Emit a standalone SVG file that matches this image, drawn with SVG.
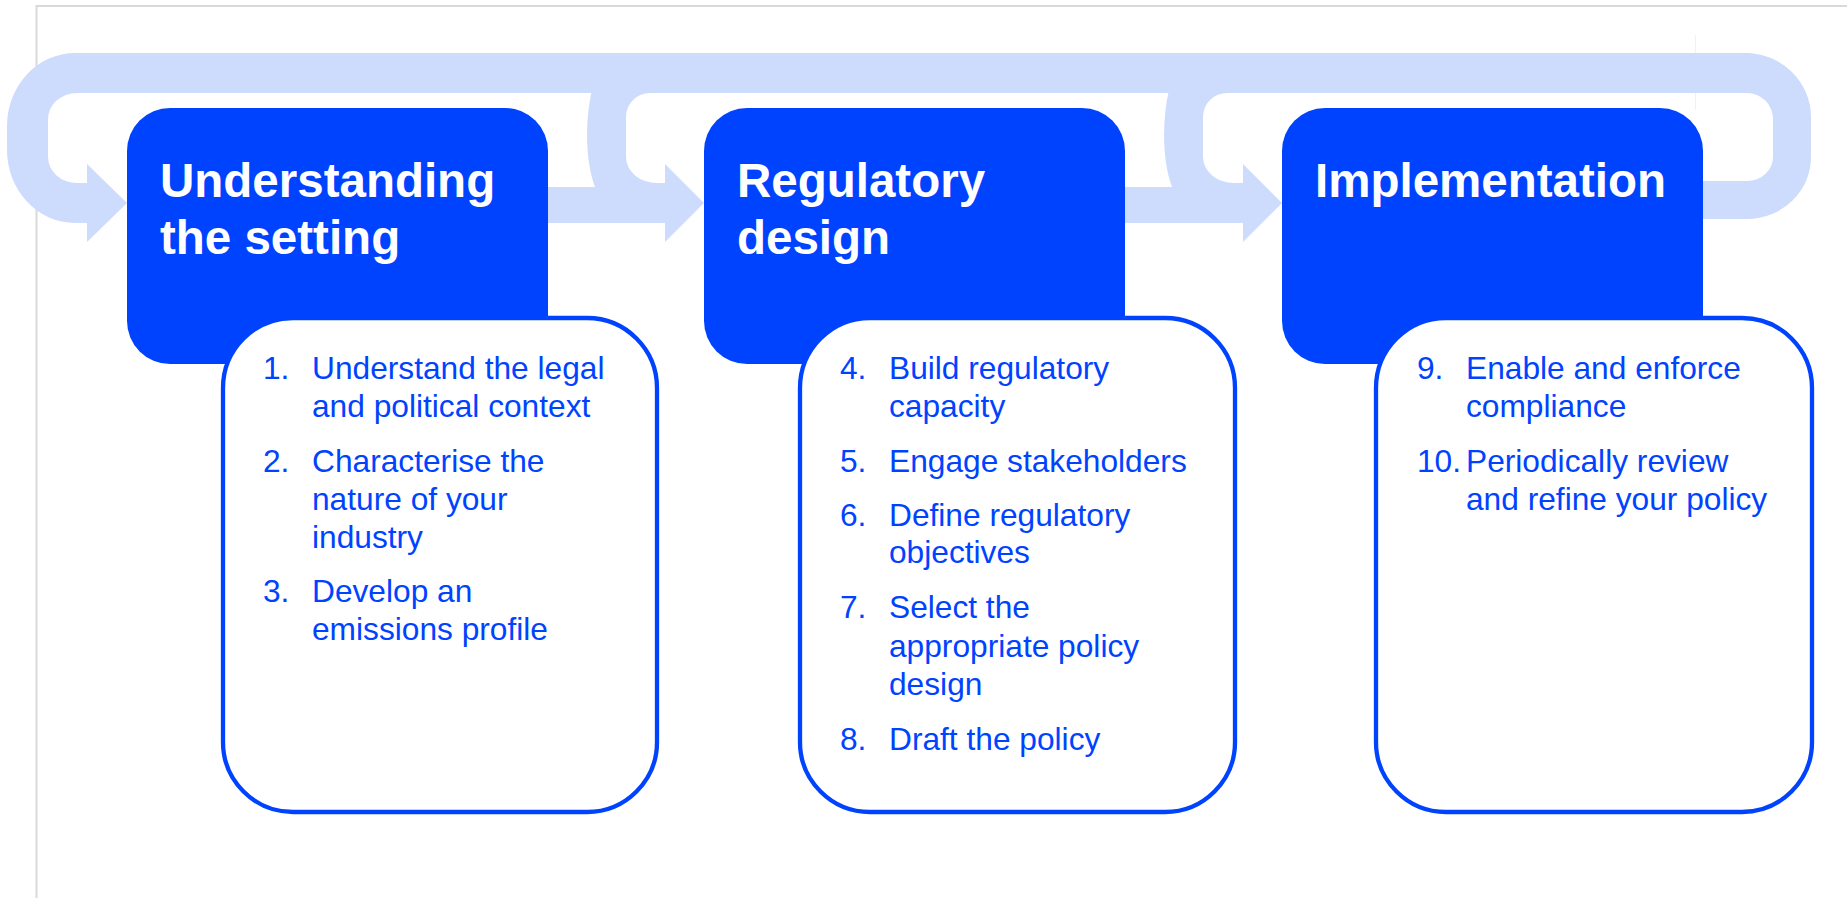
<svg xmlns="http://www.w3.org/2000/svg" width="1847" height="898" viewBox="0 0 1847 898">
  <style>
    .flow { fill: #CDDBFD; stroke: none; }
    .stage { fill: #0043FF; }
    .title { font-family: "Liberation Sans", Arial, sans-serif; font-weight: bold; font-size: 47.5px; fill: #FFFFFF; }
    .panel { fill: #FFFFFF; stroke: #0043FF; stroke-width: 4.3; }
    .item { font-family: "Liberation Sans", Arial, sans-serif; font-size: 31.7px; fill: #0043FF; }
    .frame { stroke: #D9D9D9; stroke-width: 2; fill: none; }
  </style>
  <rect x="0" y="0" width="1847" height="898" fill="#FFFFFF"/>
  <g id="frame">
    <path class="frame" d="M 36.5 898 L 36.5 6 L 1847 6"/>
    <line x1="1695.5" y1="35" x2="1695.5" y2="110" stroke="#EEF1F8" stroke-width="1"/>
  </g>
  <g id="connectors">
    <rect class="flow" x="72" y="53" width="1678" height="40"/>
    <path class="flow" d="M 75 53 A 68 73 0 0 0 7 126 L 7 150 A 68 73 0 0 0 75 223 L 87 223 L 87 242 L 127 203 L 87 164 L 87 183 L 77 183 A 29 26 0 0 1 48 157 L 48 119 A 29 26 0 0 1 77 93 Z"/>
    <path class="flow" d="M 546 187 L 595 187 C 585 160 585 120 592 90 L 650 90 L 650 93 A 24 24 0 0 0 626 117 L 626 157 A 31 26 0 0 0 657 183 L 665 183 L 665 164 L 704 203 L 665 242 L 665 223 L 546 223 Z"/>
    <path class="flow" d="M 1123 187 L 1172 187 C 1162 160 1162 120 1169 90 L 1227 90 L 1227 93 A 24 24 0 0 0 1203 117 L 1203 157 A 31 26 0 0 0 1234 183 L 1243 183 L 1243 164 L 1282 203 L 1243 242 L 1243 223 L 1123 223 Z"/>
    <path class="flow" d="M 1745 53 A 66 64 0 0 1 1811 117 L 1811 157 A 64 62 0 0 1 1747 219 L 1700 219 L 1700 181 L 1747 181 A 26 24 0 0 0 1773 157 L 1773 119 A 26 26 0 0 0 1747 93 Z"/>
  </g>
  <g id="stage1">
    <rect class="stage" x="127" y="108" width="421" height="256" rx="43" ry="43"/>
    <text class="title" x="160" y="197">Understanding</text>
    <text class="title" x="160" y="254">the setting</text>
    <rect class="panel" x="223" y="318" width="434" height="494" rx="70" ry="70"/>
    <text class="item" x="263" y="379">1.</text>
    <text class="item" x="312" y="379">Understand the legal</text>
    <text class="item" x="312" y="417">and political context</text>
    <text class="item" x="263" y="472">2.</text>
    <text class="item" x="312" y="472">Characterise the</text>
    <text class="item" x="312" y="510">nature of your</text>
    <text class="item" x="312" y="548">industry</text>
    <text class="item" x="263" y="602">3.</text>
    <text class="item" x="312" y="602">Develop an</text>
    <text class="item" x="312" y="640">emissions profile</text>
  </g>
  <g id="stage2">
    <rect class="stage" x="704" y="108" width="421" height="256" rx="43" ry="43"/>
    <text class="title" x="737" y="197">Regulatory</text>
    <text class="title" x="737" y="254">design</text>
    <rect class="panel" x="800" y="318" width="435" height="494" rx="70" ry="70"/>
    <text class="item" x="840" y="379">4.</text>
    <text class="item" x="889" y="379">Build regulatory</text>
    <text class="item" x="889" y="417">capacity</text>
    <text class="item" x="840" y="472">5.</text>
    <text class="item" x="889" y="472">Engage stakeholders</text>
    <text class="item" x="840" y="526">6.</text>
    <text class="item" x="889" y="526">Define regulatory</text>
    <text class="item" x="889" y="563">objectives</text>
    <text class="item" x="840" y="618">7.</text>
    <text class="item" x="889" y="618">Select the</text>
    <text class="item" x="889" y="657">appropriate policy</text>
    <text class="item" x="889" y="695">design</text>
    <text class="item" x="840" y="750">8.</text>
    <text class="item" x="889" y="750">Draft the policy</text>
  </g>
  <g id="stage3">
    <rect class="stage" x="1282" y="108" width="421" height="256" rx="43" ry="43"/>
    <text class="title" x="1315" y="197">Implementation</text>
    <rect class="panel" x="1376" y="318" width="436" height="494" rx="70" ry="70"/>
    <text class="item" x="1417" y="379">9.</text>
    <text class="item" x="1466" y="379">Enable and enforce</text>
    <text class="item" x="1466" y="417">compliance</text>
    <text class="item" x="1417" y="472">10.</text>
    <text class="item" x="1466" y="472">Periodically review</text>
    <text class="item" x="1466" y="510">and refine your policy</text>
  </g>
</svg>
